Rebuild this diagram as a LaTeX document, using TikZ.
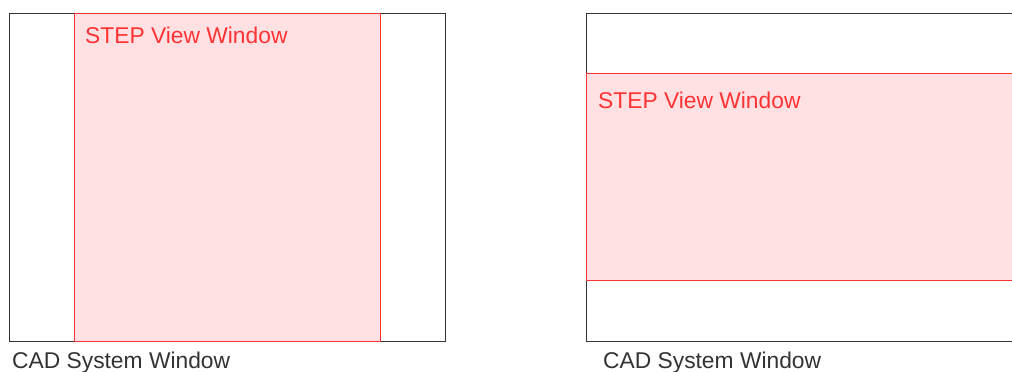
\documentclass[tikz,border=0pt]{standalone}
\usepackage{fontspec}
\setmainfont{Liberation Sans}
\usepackage{xcolor}
\usepackage{tikz}
\usetikzlibrary{positioning}
\definecolor{frameline}{HTML}{333333}
\definecolor{viewline}{HTML}{FF3333}
\definecolor{viewfill}{HTML}{FFE1E4}
\tikzstyle{cadwin} = [rectangle, draw=frameline, line width=1.2pt, inner sep=0pt, anchor=north west]
\tikzstyle{stepwin} = [rectangle, draw=viewline, fill=viewfill, line width=1.2pt, inner sep=0pt, anchor=north west]
\tikzstyle{steplabel} = [text=viewline, inner sep=0pt, anchor=base west, font=\fontsize{22.8}{27}\selectfont]
\tikzstyle{cadlabel} = [text=frameline, inner sep=0pt, anchor=base west, font=\fontsize{22.8}{27}\selectfont]

\begin{document}
\begin{tikzpicture}[x=1pt, y=-1pt]
\useasboundingbox (0,0) rectangle (1012,372);
\clip (0,0) rectangle (1012,372);

% left: view window narrower than the CAD window
\node (cadA) [cadwin, minimum width=436pt, minimum height=328pt] at (9,13) {};
\node (stepA) [stepwin, minimum width=306pt, minimum height=328pt] at (73.5,13) {};
\node (stepAlbl) [steplabel] at (85,43) {STEP View Window};
\node (cadAlbl) [cadlabel] at (12,368) {CAD System Window};

% right: view window wider than the CAD window
\node (cadB) [cadwin, minimum width=460pt, minimum height=328pt] at (586,13) {};
\node (stepB) [stepwin, minimum width=460pt, minimum height=207pt] at (586,73) {};
\node (stepBlbl) [steplabel] at (598,108) {STEP View Window};
\node (cadBlbl) [cadlabel] at (603,368) {CAD System Window};

\end{tikzpicture}
\end{document}
